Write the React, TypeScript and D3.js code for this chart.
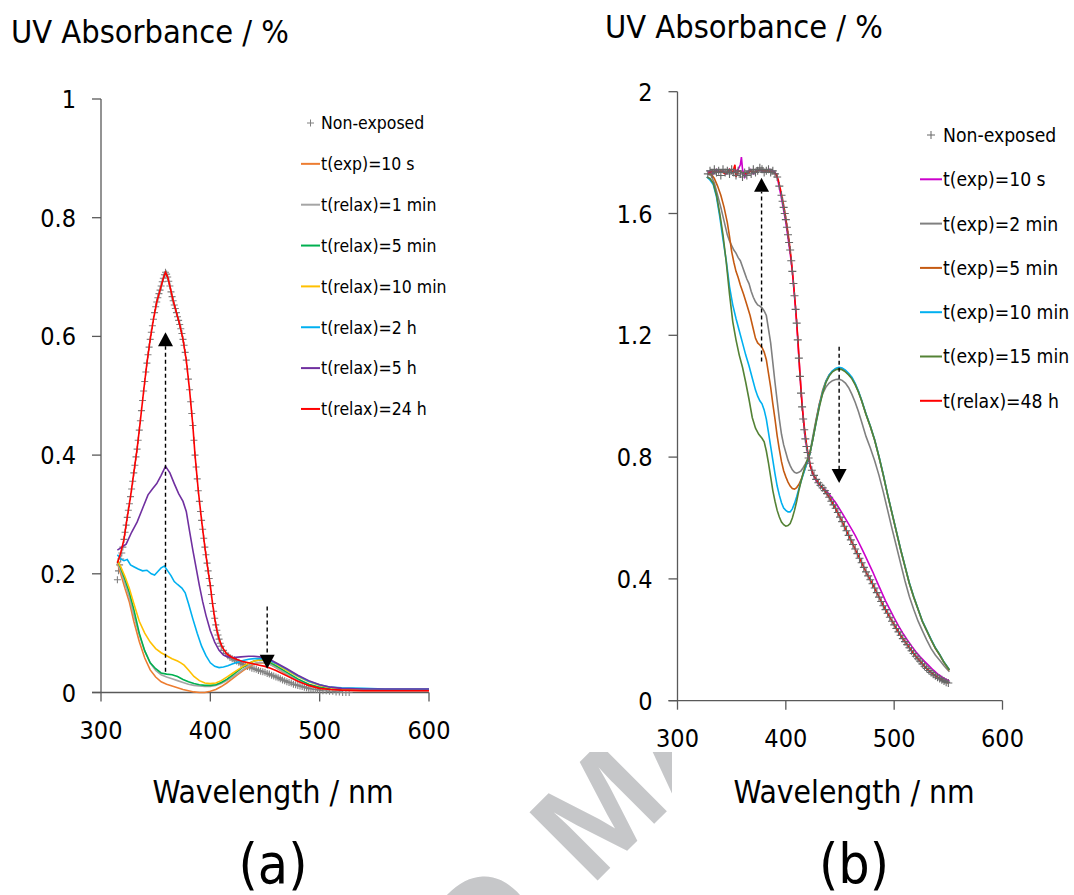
import React from 'react';
import * as d3 from 'd3';

type Pt = [number, number];

// ---------- shared ticks ----------
const xTicks = [300, 400, 500, 600];
const yTicksA = [0, 0.2, 0.4, 0.6, 0.8, 1];
const yTicksB = [0, 0.4, 0.8, 1.2, 1.6, 2];

// ---------- panel (a): wavelength (nm) / absorbance ----------
const nonExposedA: Pt[] = [
  [315, 0.19], [316, 0.205], [317, 0.215], [318, 0.225], [319, 0.235], [320, 0.245], [321, 0.258], [322, 0.27],
  [323, 0.282], [324, 0.295], [325, 0.307], [326, 0.318], [327, 0.33], [328, 0.343], [329, 0.356], [330, 0.37],
  [331, 0.383], [332, 0.397], [333, 0.41], [334, 0.425], [335, 0.442], [336, 0.458], [337, 0.475], [338, 0.492],
  [339, 0.508], [340, 0.524], [341, 0.54], [342, 0.555], [343, 0.569], [344, 0.582], [345, 0.595], [346, 0.607],
  [347, 0.618], [348, 0.629], [349, 0.64], [350, 0.65], [351, 0.658], [352, 0.665], [353, 0.672], [354, 0.678],
  [355, 0.685], [356, 0.692], [357, 0.698], [358, 0.704], [359, 0.708], [360, 0.705], [361, 0.7], [362, 0.693],
  [363, 0.685], [364, 0.675], [365, 0.667], [366, 0.66], [367, 0.653], [368, 0.647], [369, 0.64], [370, 0.633],
  [371, 0.627], [372, 0.62], [373, 0.613], [374, 0.605], [375, 0.595], [376, 0.585], [377, 0.573], [378, 0.56],
  [379, 0.545], [380, 0.528], [381, 0.51], [382, 0.49], [383, 0.47], [384, 0.45], [385, 0.425], [386, 0.4],
  [387, 0.38], [388, 0.36], [389, 0.34], [390, 0.322], [391, 0.305], [392, 0.29], [393, 0.275], [394, 0.26],
  [395, 0.245], [396, 0.232], [397, 0.218], [398, 0.205], [399, 0.192], [400, 0.18], [401, 0.165], [402, 0.15],
  [403, 0.137], [404, 0.125], [405, 0.114], [406, 0.105], [407, 0.097], [408, 0.09], [409, 0.083], [410, 0.078],
  [412, 0.071], [414, 0.066], [416, 0.062], [418, 0.059], [420, 0.057], [422, 0.055], [424, 0.053], [426, 0.051],
  [428, 0.049], [430, 0.047], [432, 0.046], [434, 0.044], [436, 0.043], [438, 0.041], [440, 0.04], [442, 0.039],
  [444, 0.037], [446, 0.036], [448, 0.035], [450, 0.034], [452, 0.032], [454, 0.031], [456, 0.029], [458, 0.028],
  [460, 0.026], [462, 0.025], [464, 0.023], [466, 0.021], [468, 0.02], [470, 0.018], [472, 0.017], [474, 0.016],
  [476, 0.014], [478, 0.013], [480, 0.012], [482, 0.011], [484, 0.01], [486, 0.009], [488, 0.008], [490, 0.007],
  [492, 0.006], [494, 0.006], [496, 0.005], [498, 0.005], [500, 0.004], [503, 0.003], [506, 0.003], [509, 0.002],
  [512, 0.002], [515, 0.001], [518, 0.001], [521, 0], [524, 0], [527, 0],
];
const exp10sA: Pt[] = [
  [315, 0.218], [318, 0.2], [322, 0.175], [326, 0.152], [330, 0.12], [335, 0.086], [340, 0.058], [345, 0.038],
  [350, 0.026], [355, 0.018], [360, 0.014], [365, 0.011], [370, 0.008], [375, 0.005], [380, 0.003], [385, 0.001],
  [390, 0], [395, 0], [400, 0.002], [405, 0.005], [410, 0.01], [415, 0.016], [420, 0.023], [425, 0.03], [430, 0.037],
  [435, 0.043], [440, 0.048], [445, 0.05], [450, 0.05], [455, 0.047], [460, 0.042], [470, 0.03], [480, 0.02],
  [490, 0.012], [500, 0.007], [510, 0.005], [520, 0.004], [540, 0.003], [560, 0.003], [580, 0.003], [600, 0.003],
];
const relax1minA: Pt[] = [
  [315, 0.22], [318, 0.205], [322, 0.183], [326, 0.16], [330, 0.13], [335, 0.097], [340, 0.07], [345, 0.05],
  [350, 0.037], [355, 0.03], [360, 0.026], [365, 0.023], [370, 0.02], [375, 0.017], [380, 0.014], [385, 0.012],
  [390, 0.011], [395, 0.01], [400, 0.01], [405, 0.012], [410, 0.015], [415, 0.02], [420, 0.026], [425, 0.032],
  [430, 0.039], [435, 0.045], [440, 0.049], [445, 0.051], [450, 0.05], [455, 0.047], [460, 0.042], [470, 0.031],
  [480, 0.021], [490, 0.013], [500, 0.008], [510, 0.005], [520, 0.004], [540, 0.004], [560, 0.003], [580, 0.003], [600, 0.003],
];
const relax5minA: Pt[] = [
  [315, 0.222], [318, 0.21], [322, 0.19], [326, 0.168], [330, 0.14], [335, 0.1], [340, 0.07], [345, 0.05],
  [350, 0.04], [355, 0.033], [360, 0.031], [365, 0.03], [370, 0.027], [375, 0.022], [380, 0.018], [385, 0.015],
  [390, 0.013], [395, 0.012], [400, 0.012], [405, 0.013], [410, 0.017], [415, 0.022], [420, 0.029], [425, 0.036],
  [430, 0.043], [435, 0.049], [440, 0.053], [445, 0.055], [450, 0.054], [455, 0.05], [460, 0.045], [470, 0.034],
  [480, 0.023], [490, 0.014], [500, 0.009], [510, 0.006], [520, 0.005], [540, 0.004], [560, 0.004], [580, 0.004], [600, 0.004],
];
const relax10minA: Pt[] = [
  [315, 0.222], [318, 0.212], [322, 0.195], [326, 0.175], [330, 0.15], [335, 0.12], [340, 0.1], [345, 0.085],
  [350, 0.074], [355, 0.067], [360, 0.062], [365, 0.057], [370, 0.053], [373, 0.05], [376, 0.046], [380, 0.038],
  [385, 0.027], [390, 0.02], [395, 0.016], [400, 0.015], [405, 0.016], [410, 0.02], [415, 0.026], [420, 0.032],
  [425, 0.038], [430, 0.044], [435, 0.049], [440, 0.053], [445, 0.055], [450, 0.055], [455, 0.052], [460, 0.048],
  [470, 0.037], [480, 0.027], [490, 0.018], [500, 0.012], [510, 0.008], [520, 0.006], [540, 0.005], [560, 0.004], [580, 0.004], [600, 0.004],
];
const relax2hA: Pt[] = [
  [315, 0.232], [318, 0.225], [321, 0.222], [324, 0.224], [327, 0.215], [330, 0.212], [334, 0.208], [338, 0.205],
  [342, 0.206], [346, 0.2], [349, 0.198], [352, 0.204], [355, 0.21], [358, 0.213], [361, 0.205], [364, 0.197],
  [367, 0.187], [370, 0.182], [374, 0.176], [377, 0.168], [380, 0.15], [384, 0.124], [388, 0.1], [392, 0.078],
  [396, 0.062], [400, 0.05], [404, 0.044], [408, 0.042], [412, 0.043], [416, 0.045], [420, 0.048], [425, 0.051],
  [430, 0.054], [435, 0.056], [440, 0.057], [445, 0.057], [450, 0.056], [455, 0.053], [460, 0.049], [470, 0.039],
  [480, 0.028], [490, 0.019], [500, 0.013], [510, 0.009], [520, 0.008], [540, 0.007], [560, 0.006], [580, 0.006], [600, 0.006],
];
const relax5hA: Pt[] = [
  [315, 0.24], [319, 0.245], [323, 0.25], [328, 0.27], [333, 0.287], [338, 0.31], [343, 0.333], [347, 0.343],
  [351, 0.352], [355, 0.366], [359, 0.381], [363, 0.37], [367, 0.352], [371, 0.335], [375, 0.322], [378, 0.305],
  [381, 0.272], [384, 0.24], [387, 0.21], [390, 0.18], [393, 0.153], [396, 0.13], [400, 0.104], [404, 0.085],
  [408, 0.071], [412, 0.063], [416, 0.06], [421, 0.059], [428, 0.06], [435, 0.061], [440, 0.061], [445, 0.06],
  [450, 0.058], [455, 0.055], [460, 0.05], [470, 0.04], [480, 0.029], [490, 0.02], [500, 0.013], [510, 0.009],
  [520, 0.007], [540, 0.006], [560, 0.006], [580, 0.006], [600, 0.006],
];
const relax24hA: Pt[] = [
  [315, 0.218], [318, 0.235], [321, 0.258], [324, 0.295], [327, 0.33], [330, 0.37], [333, 0.41], [336, 0.458],
  [339, 0.508], [342, 0.555], [345, 0.595], [348, 0.629], [351, 0.658], [354, 0.678], [357, 0.698], [359, 0.708],
  [361, 0.7], [363, 0.685], [366, 0.66], [369, 0.64], [372, 0.62], [375, 0.595], [378, 0.56], [381, 0.51],
  [384, 0.45], [386, 0.4], [389, 0.34], [392, 0.29], [395, 0.245], [398, 0.205], [400, 0.18], [402, 0.15],
  [404, 0.125], [406, 0.105], [408, 0.09], [411, 0.076], [415, 0.065], [420, 0.059], [425, 0.055], [430, 0.052],
  [435, 0.05], [440, 0.048], [445, 0.046], [450, 0.044], [455, 0.041], [460, 0.037], [470, 0.028], [480, 0.019],
  [490, 0.012], [500, 0.007], [510, 0.005], [520, 0.004], [540, 0.003], [560, 0.003], [580, 0.003], [600, 0.003],
];

const seriesA = [
  { name: 't(exp)=10 s', color: '#ED7D31', data: exp10sA },
  { name: 't(relax)=1 min', color: '#A5A5A5', data: relax1minA },
  { name: 't(relax)=5 min', color: '#00B050', data: relax5minA },
  { name: 't(relax)=10 min', color: '#FFC000', data: relax10minA },
  { name: 't(relax)=2 h', color: '#00B0F0', data: relax2hA },
  { name: 't(relax)=5 h', color: '#7030A0', data: relax5hA },
  { name: 't(relax)=24 h', color: '#FF0000', data: relax24hA },
];

// ---------- panel (b) ----------
const nonExposedB: Pt[] = [
  [328, 1.73], [330, 1.74], [332, 1.73], [334, 1.745], [336, 1.735], [338, 1.74], [340, 1.725], [342, 1.745],
  [344, 1.735], [346, 1.74], [348, 1.73], [350, 1.745], [352, 1.735], [354, 1.725], [356, 1.74], [358, 1.73],
  [360, 1.72], [362, 1.735], [364, 1.725], [366, 1.74], [368, 1.73], [370, 1.745], [372, 1.735], [374, 1.74],
  [376, 1.75], [378, 1.745], [380, 1.735], [382, 1.74], [384, 1.745], [386, 1.735], [388, 1.74], [390, 1.73],
  [392, 1.72], [394, 1.69], [396, 1.66], [397, 1.64], [398, 1.62], [399, 1.6], [400, 1.58], [401, 1.555],
  [402, 1.53], [403, 1.505], [404, 1.48], [405, 1.445], [406, 1.41], [407, 1.37], [408, 1.33], [409, 1.285],
  [410, 1.24], [411, 1.185], [412, 1.125], [413, 1.065], [414, 1.01], [415, 0.965], [416, 0.925], [417, 0.89],
  [418, 0.86], [419, 0.835], [420, 0.815], [421, 0.797], [422, 0.78], [424, 0.757], [426, 0.74], [428, 0.727],
  [430, 0.716], [432, 0.707], [434, 0.699], [436, 0.69], [438, 0.68], [440, 0.668], [442, 0.655], [444, 0.643],
  [446, 0.632], [448, 0.618], [450, 0.603], [452, 0.588], [454, 0.573], [456, 0.558], [458, 0.543], [460, 0.528],
  [462, 0.513], [464, 0.498], [466, 0.483], [468, 0.468], [470, 0.453], [472, 0.438], [474, 0.423], [476, 0.41],
  [478, 0.397], [480, 0.384], [482, 0.37], [484, 0.355], [486, 0.34], [488, 0.326], [490, 0.312], [492, 0.299],
  [494, 0.287], [496, 0.274], [498, 0.261], [500, 0.249], [502, 0.237], [504, 0.226], [506, 0.215], [508, 0.204],
  [510, 0.194], [512, 0.184], [514, 0.174], [516, 0.164], [518, 0.155], [520, 0.146], [522, 0.138], [524, 0.13],
  [526, 0.121], [528, 0.113], [530, 0.106], [532, 0.099], [534, 0.093], [536, 0.087], [538, 0.082], [540, 0.077],
  [542, 0.073], [544, 0.069], [546, 0.065], [548, 0.061], [550, 0.058],
];
const exp10sB: Pt[] = [
  [328, 1.735], [330, 1.74], [333, 1.73], [336, 1.745], [339, 1.735], [342, 1.74], [345, 1.73], [348, 1.745],
  [351, 1.735], [354, 1.74], [356, 1.745], [358, 1.76], [359, 1.785], [360, 1.745], [362, 1.72], [364, 1.735],
  [367, 1.745], [370, 1.73], [373, 1.74], [376, 1.745], [379, 1.735], [382, 1.74], [385, 1.745], [388, 1.74],
  [390, 1.735], [392, 1.72], [394, 1.685], [396, 1.65], [398, 1.61], [400, 1.57], [402, 1.52], [404, 1.47],
  [406, 1.41], [408, 1.33], [410, 1.24], [412, 1.13], [414, 1.02], [416, 0.93], [418, 0.86], [420, 0.815],
  [422, 0.78], [425, 0.745], [428, 0.722], [431, 0.708], [434, 0.699], [437, 0.69], [440, 0.678], [443, 0.664],
  [446, 0.65], [449, 0.633], [452, 0.616], [455, 0.598], [458, 0.58], [461, 0.562], [464, 0.543], [467, 0.522],
  [470, 0.5], [473, 0.478], [476, 0.455], [480, 0.425], [484, 0.392], [488, 0.36], [492, 0.328], [496, 0.3],
  [500, 0.272], [504, 0.246], [508, 0.222], [512, 0.2], [516, 0.18], [520, 0.161], [524, 0.144], [528, 0.129],
  [532, 0.115], [536, 0.101], [540, 0.088], [544, 0.078], [548, 0.07], [551, 0.065],
];
const exp2minB: Pt[] = [
  [328, 1.73], [331, 1.725], [334, 1.7], [337, 1.66], [340, 1.62], [343, 1.575], [346, 1.53], [348, 1.51],
  [350, 1.495], [352, 1.48], [354, 1.47], [356, 1.455], [358, 1.445], [360, 1.425], [362, 1.405], [364, 1.385],
  [366, 1.37], [368, 1.345], [370, 1.325], [372, 1.31], [374, 1.3], [376, 1.296], [378, 1.29], [380, 1.28],
  [382, 1.265], [384, 1.22], [386, 1.175], [388, 1.11], [390, 1.045], [392, 0.985], [394, 0.925], [396, 0.875],
  [398, 0.84], [400, 0.815], [402, 0.79], [404, 0.772], [406, 0.758], [408, 0.75], [410, 0.747], [412, 0.75],
  [414, 0.755], [416, 0.765], [418, 0.778], [420, 0.792], [422, 0.81], [425, 0.87], [428, 0.925], [431, 0.975],
  [434, 1.008], [437, 1.03], [440, 1.043], [443, 1.051], [446, 1.055], [449, 1.056], [452, 1.052], [455, 1.043],
  [458, 1.028], [461, 1.006], [464, 0.98], [467, 0.95], [470, 0.915], [474, 0.868], [478, 0.83], [482, 0.788],
  [486, 0.74], [490, 0.685], [494, 0.625], [498, 0.565], [502, 0.508], [506, 0.45], [510, 0.393], [514, 0.342],
  [518, 0.3], [522, 0.262], [526, 0.23], [530, 0.2], [534, 0.172], [538, 0.15], [542, 0.133], [546, 0.115], [551, 0.095],
];
const exp5minB: Pt[] = [
  [328, 1.73], [331, 1.73], [334, 1.715], [337, 1.69], [340, 1.66], [343, 1.62], [346, 1.57], [348, 1.525],
  [350, 1.475], [352, 1.44], [354, 1.41], [356, 1.39], [358, 1.365], [361, 1.335], [364, 1.3], [367, 1.265],
  [370, 1.22], [372, 1.19], [374, 1.175], [376, 1.168], [378, 1.16], [380, 1.145], [382, 1.12], [384, 1.075],
  [386, 1.03], [388, 0.975], [390, 0.925], [392, 0.87], [394, 0.825], [396, 0.785], [398, 0.755], [400, 0.735],
  [402, 0.718], [404, 0.705], [406, 0.697], [408, 0.695], [410, 0.7], [412, 0.71], [414, 0.725], [416, 0.745],
  [418, 0.765], [420, 0.785], [422, 0.808], [425, 0.86], [428, 0.92], [431, 0.975], [434, 1.02], [437, 1.05],
  [440, 1.07], [443, 1.082], [446, 1.09], [449, 1.093], [452, 1.09], [455, 1.083], [458, 1.072], [461, 1.06],
  [464, 1.04], [467, 1.015], [470, 0.985], [474, 0.94], [478, 0.9], [482, 0.855], [486, 0.8], [490, 0.74],
  [494, 0.675], [498, 0.615], [502, 0.555], [506, 0.495], [510, 0.44], [514, 0.385], [518, 0.34], [522, 0.3],
  [526, 0.26], [530, 0.23], [534, 0.2], [538, 0.172], [542, 0.15], [546, 0.125], [551, 0.1],
];
const exp10minB: Pt[] = [
  [327, 1.72], [330, 1.71], [333, 1.695], [336, 1.655], [339, 1.59], [342, 1.515], [345, 1.445], [348, 1.36],
  [351, 1.3], [354, 1.255], [357, 1.215], [360, 1.175], [363, 1.135], [366, 1.1], [369, 1.06], [372, 1.02],
  [374, 1.0], [376, 0.985], [378, 0.975], [380, 0.955], [382, 0.925], [384, 0.88], [386, 0.835], [388, 0.79],
  [390, 0.745], [392, 0.705], [394, 0.675], [396, 0.65], [398, 0.633], [400, 0.625], [402, 0.62], [404, 0.62],
  [406, 0.63], [408, 0.648], [410, 0.67], [412, 0.695], [414, 0.72], [416, 0.742], [418, 0.764], [420, 0.785],
  [422, 0.808], [425, 0.86], [428, 0.915], [431, 0.97], [434, 1.015], [437, 1.048], [440, 1.07], [443, 1.083],
  [446, 1.091], [449, 1.095], [452, 1.093], [455, 1.086], [458, 1.075], [461, 1.062], [464, 1.042], [467, 1.017],
  [470, 0.987], [474, 0.942], [478, 0.902], [482, 0.857], [486, 0.802], [490, 0.742], [494, 0.677], [498, 0.617],
  [502, 0.557], [506, 0.497], [510, 0.442], [514, 0.387], [518, 0.342], [522, 0.302], [526, 0.262], [530, 0.232],
  [534, 0.202], [538, 0.174], [542, 0.152], [546, 0.127], [551, 0.102],
];
const exp15minB: Pt[] = [
  [327, 1.72], [330, 1.715], [333, 1.7], [336, 1.66], [339, 1.6], [342, 1.53], [345, 1.44], [348, 1.335],
  [351, 1.245], [354, 1.185], [357, 1.135], [360, 1.095], [363, 1.045], [366, 0.99], [369, 0.93], [372, 0.895],
  [375, 0.875], [378, 0.862], [380, 0.85], [382, 0.82], [384, 0.78], [386, 0.735], [388, 0.69], [390, 0.655],
  [392, 0.625], [394, 0.603], [396, 0.587], [398, 0.578], [400, 0.573], [402, 0.575], [404, 0.582], [406, 0.6],
  [408, 0.625], [410, 0.655], [412, 0.69], [414, 0.72], [416, 0.748], [418, 0.772], [420, 0.792], [422, 0.81],
  [425, 0.86], [428, 0.915], [431, 0.965], [434, 1.01], [437, 1.045], [440, 1.066], [443, 1.08], [446, 1.087],
  [449, 1.089], [452, 1.087], [455, 1.08], [458, 1.07], [461, 1.057], [464, 1.038], [467, 1.014], [470, 0.985],
  [474, 0.941], [478, 0.901], [482, 0.856], [486, 0.801], [490, 0.741], [494, 0.676], [498, 0.616], [502, 0.556],
  [506, 0.496], [510, 0.441], [514, 0.386], [518, 0.341], [522, 0.301], [526, 0.261], [530, 0.231], [534, 0.201],
  [538, 0.173], [542, 0.151], [546, 0.126], [551, 0.101],
];
const relax48hB: Pt[] = [
  [328, 1.73], [332, 1.74], [336, 1.735], [340, 1.74], [344, 1.73], [348, 1.745], [351, 1.735], [353, 1.76],
  [354, 1.72], [356, 1.74], [360, 1.735], [364, 1.73], [368, 1.74], [372, 1.735], [376, 1.745], [380, 1.74],
  [384, 1.74], [388, 1.735], [391, 1.73], [393, 1.71], [395, 1.68], [397, 1.645], [399, 1.605], [401, 1.56],
  [403, 1.51], [405, 1.45], [407, 1.375], [409, 1.29], [411, 1.195], [413, 1.075], [415, 0.97], [417, 0.9],
  [419, 0.845], [421, 0.8], [423, 0.765], [426, 0.738], [430, 0.716], [435, 0.694], [440, 0.668], [445, 0.637],
  [450, 0.603], [455, 0.565], [460, 0.528], [465, 0.49], [470, 0.453], [475, 0.416], [480, 0.384], [485, 0.348],
  [490, 0.312], [495, 0.28], [500, 0.249], [505, 0.22], [510, 0.194], [515, 0.169], [520, 0.146], [525, 0.125],
  [530, 0.106], [535, 0.09], [540, 0.077], [545, 0.067], [550, 0.058],
];

const seriesB = [
  { name: 't(exp)=10 s', color: '#CC00CC', data: exp10sB },
  { name: 't(exp)=2 min', color: '#808080', data: exp2minB },
  { name: 't(exp)=5 min', color: '#C55A11', data: exp5minB },
  { name: 't(exp)=10 min', color: '#00B0F0', data: exp10minB },
  { name: 't(exp)=15 min', color: '#548235', data: exp15minB },
  { name: 't(relax)=48 h', color: '#FF0000', data: relax48hB },
];

// dashed arrows: [wavelength, from, to]
const arrowsA: [number, number, number][] = [[359, 0.035, 0.607], [452, 0.145, 0.04]];
const arrowsB: [number, number, number][] = [[377.6, 1.114, 1.717], [449.2, 1.162, 0.715]];

const FONT = "'DejaVu Sans Condensed', 'DejaVu Sans', sans-serif";
const AXIS = '#595959';

function Panel(p: any) {
  const x = d3.scaleLinear().domain([300, 600]).range([p.left, p.right]);
  const y = d3.scaleLinear().domain([0, p.yMax]).range([p.bottom, p.top]);
  const line = d3.line<Pt>().x(d => x(d[0])).y(d => y(d[1]));
  const s = p.markerSize;
  const plus = (cx: number, cy: number) => `M${cx - s},${cy}h${2 * s}M${cx},${cy - s}v${2 * s}`;

  const markers = (
    <path d={p.nonExposed.map((d: Pt) => plus(x(d[0]), y(d[1]))).join('')}
      stroke={p.markerColor} strokeWidth={1.1} fill="none" />
  );
  const lines = p.series.map((sr: any) => (
    <path key={sr.name} d={line(sr.data) || ''} stroke={sr.color} strokeWidth={1.6} fill="none" />
  ));

  return (
    <g fontFamily={FONT} style={{ fontStretch: 'condensed' }}>
      {/* axes */}
      <line x1={p.left} x2={p.left} y1={p.top} y2={p.bottom} stroke={AXIS} strokeWidth={1.3} />
      <line x1={p.left - 9} x2={p.right} y1={p.bottom} y2={p.bottom} stroke={AXIS} strokeWidth={1.3} />
      {p.yTicks.map((t: number) => (
        <g key={'y' + t}>
          <line x1={p.left - 9} x2={p.left} y1={y(t)} y2={y(t)} stroke={AXIS} strokeWidth={1.3} />
          <text x={p.left - 25} y={y(t) + 9} textAnchor="end" fontSize={25} fill="#000">{String(t)}</text>
        </g>
      ))}
      {xTicks.map(t => (
        <g key={'x' + t}>
          <line x1={x(t)} x2={x(t)} y1={p.bottom} y2={p.bottom + 9} stroke={AXIS} strokeWidth={1.3} />
          <text x={x(t)} y={p.bottom + 46} textAnchor="middle" fontSize={25} fill="#000">{t}</text>
        </g>
      ))}

      {p.markersFirst ? <>{markers}{lines}</> : <>{lines}{markers}</>}

      {/* arrows */}
      {p.arrows.map(([wl, from, to]: [number, number, number], i: number) => {
        const ax = x(wl);
        const tip = y(to);
        const dir = to > from ? 1 : -1;
        const base = tip + dir * 14;
        return (
          <g key={'a' + i}>
            <line x1={ax} x2={ax} y1={y(from)} y2={base} stroke="#000" strokeWidth={1.4} strokeDasharray="4,3" />
            <path d={`M${ax},${tip}L${ax - 7.5},${base}L${ax + 7.5},${base}Z`} fill="#000" />
          </g>
        );
      })}

      {/* legend */}
      <g fontSize={p.legendFont}>
        <path d={plus(p.legendX + p.swatch / 2, p.legendY)} stroke={p.markerColor} strokeWidth={1} />
        <text x={p.legendX + p.swatch + 1} y={p.legendY + p.legendFont * 0.36}>Non-exposed</text>
        {p.series.map((sr: any, i: number) => {
          const ly = p.legendY + (i + 1) * p.legendGap;
          return (
            <g key={'l' + sr.name}>
              <line x1={p.legendX} x2={p.legendX + p.swatch} y1={ly} y2={ly} stroke={sr.color} strokeWidth={2} />
              <text x={p.legendX + p.swatch + 1} y={ly + p.legendFont * 0.36}>{sr.name}</text>
            </g>
          );
        })}
      </g>

      {/* titles */}
      <text x={p.yTitleX} y={p.yTitleY} fontSize={32.3}>UV Absorbance / %</text>
      <text x={p.xTitleX} y={803} fontSize={31.5} textAnchor="middle">Wavelength / nm</text>
      <text x={p.xTitleX} y={883} fontSize={55} textAnchor="middle">{p.label}</text>
    </g>
  );
}

export default function App() {
  return (
    <svg width={1074} height={895} style={{ position: 'absolute', left: 0, top: 0, background: '#fff' }}>
      <rect width={1074} height={895} fill="#fff" />
      {/* watermark behind the figure */}
      <g transform="translate(591,887) rotate(-45)" fontFamily="'Liberation Sans', Arial, sans-serif"
        fontWeight="bold" fontSize={140} fill="#C6C7C9">
        <text x={-50} y={0} textAnchor="end">ACCEPTED</text>
        <text x={0} y={0}>MANUSCRIPT</text>
      </g>
      <rect x={575} y={0} width={499} height={752} fill="#fff" />
      <rect x={672} y={0} width={402} height={895} fill="#fff" />

      <Panel
        left={101} right={429} top={99} bottom={692.5} yMax={1} yTicks={yTicksA}
        nonExposed={nonExposedA} series={seriesA} markerColor="#808080" markerSize={3.5} markersFirst
        arrows={arrowsA}
        legendX={301} legendY={123} legendGap={40.85} swatch={19} legendFont={17.5}
        yTitleX={11} yTitleY={43} xTitleX={273} label="(a)"
      />
      <Panel
        left={677.5} right={1002.5} top={91.7} bottom={700.7} yMax={2} yTicks={yTicksB}
        nonExposed={nonExposedB} series={seriesB} markerColor="#666666" markerSize={4} markersFirst={false}
        arrows={arrowsB}
        legendX={920} legendY={135} legendGap={44.3} swatch={22} legendFont={19.2}
        yTitleX={605} yTitleY={38} xTitleX={854} label="(b)"
      />
    </svg>
  );
}
